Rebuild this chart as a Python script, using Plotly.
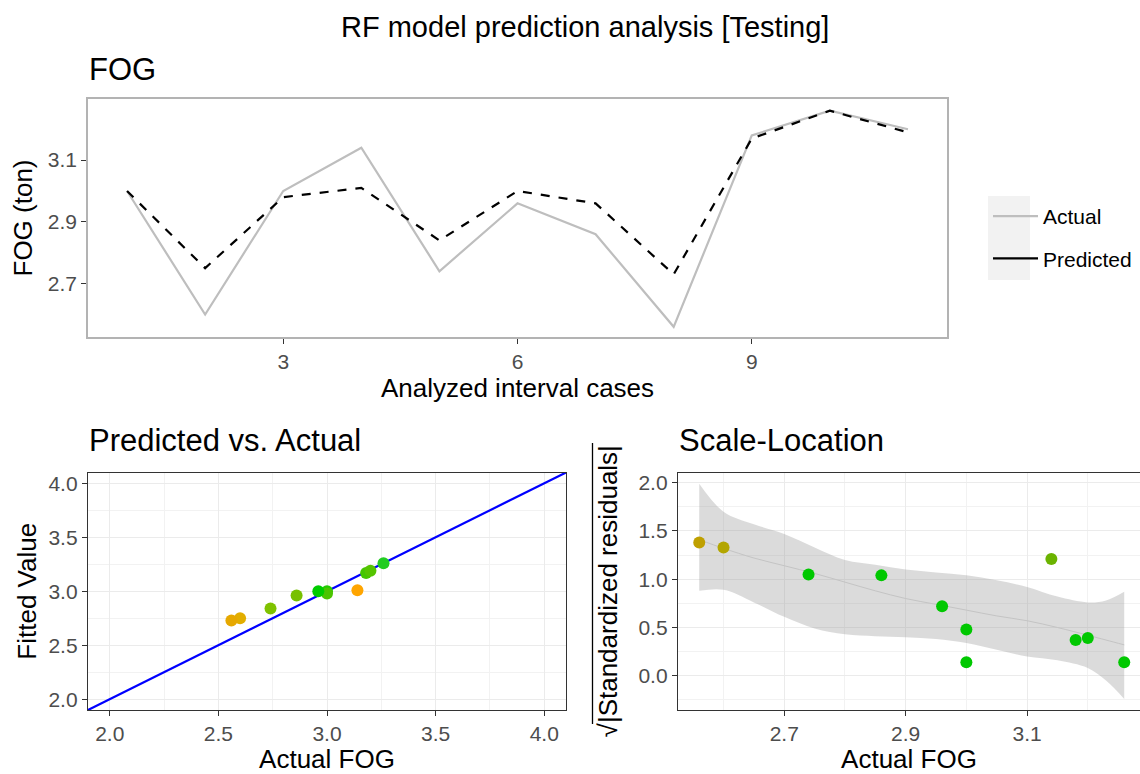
import plotly.graph_objects as go

# ---------------- data ----------------
cases = list(range(1, 12))
actual = [3.00, 2.60, 3.00, 3.14, 2.74, 2.96, 2.86, 2.56, 3.18, 3.26, 3.20]
predicted = [3.00, 2.75, 2.98, 3.01, 2.84, 3.00, 2.96, 2.73, 3.17, 3.26, 3.19]
sqrt_std_resid = [0.14, 1.33, 0.48, 1.21, 1.05, 0.72, 1.04, 1.38, 0.37, 0.14, 0.39]

# loess smooth (scale-location) with confidence band
smooth_x = [2.56, 2.60, 2.65, 2.70, 2.75, 2.80, 2.85, 2.90, 2.95, 3.00, 3.05, 3.10, 3.15, 3.20, 3.23, 3.26]
smooth_y = [1.41, 1.32, 1.22, 1.14, 1.06, 0.97, 0.88, 0.80, 0.74, 0.68, 0.62, 0.57, 0.50, 0.42, 0.37, 0.32]
smooth_upper = [1.99, 1.70, 1.57, 1.47, 1.33, 1.20, 1.15, 1.10, 1.07, 1.04, 0.99, 0.92, 0.82, 0.76, 0.78, 0.87]
smooth_lower = [0.88, 0.89, 0.76, 0.61, 0.49, 0.43, 0.41, 0.40, 0.38, 0.34, 0.27, 0.20, 0.16, 0.08, -0.05, -0.24]

abline_intercept = 0.0
abline_slope = 1.0

# per-point colours
pva_colors = ["#22CC00", "#E2AE00", "#4CC400", "#FFA500", "#7FC200", "#00CC00",
              "#77C000", "#E6A800", "#44C600", "#22CC22", "#55C400"]
sl_colors = ["#00C800", "#B3A600", "#00C800", "#6BB300", "#00C800", "#00C800",
             "#00C800", "#BFA000", "#00C800", "#00C800", "#00C800"]

W, H = 1140, 774
FONT = "Liberation Sans, Arial, sans-serif"


def px(x):
    return x / W


def py(y):
    return 1 - y / H


fig = go.Figure()

# ---- top panel ----
fig.add_trace(go.Scatter(x=cases, y=actual, mode="lines", line=dict(color="#BEBEBE", width=2.2),
                         showlegend=False, xaxis="x", yaxis="y"))
fig.add_trace(go.Scatter(x=cases, y=predicted, mode="lines",
                         line=dict(color="black", width=2.2, dash="dash"),
                         showlegend=False, xaxis="x", yaxis="y"))
# legend keys
fig.add_trace(go.Scatter(x=[None], y=[None], mode="lines", name="Actual",
                         line=dict(color="#BEBEBE", width=2.2), legendgroup="a",
                         xaxis="x", yaxis="y"))
fig.add_trace(go.Scatter(x=[None], y=[None], mode="lines", name="Predicted",
                         line=dict(color="black", width=2.2), legendgroup="b",
                         xaxis="x", yaxis="y"))

# ---- bottom left: predicted vs actual ----
xr2 = [1.9, 4.1]
fig.add_trace(go.Scatter(x=xr2, y=[abline_intercept + abline_slope * v for v in xr2], mode="lines",
                         line=dict(color="#0000FF", width=2.2), showlegend=False,
                         xaxis="x2", yaxis="y2", cliponaxis=True))
fig.add_trace(go.Scatter(x=actual, y=predicted, mode="markers",
                         marker=dict(color=pva_colors, size=12), showlegend=False,
                         xaxis="x2", yaxis="y2"))

# ---- bottom right: scale-location ----
fig.add_trace(go.Scatter(x=smooth_x, y=smooth_upper, mode="lines", line=dict(width=0, shape="spline"),
                         showlegend=False, xaxis="x3", yaxis="y3", hoverinfo="skip"))
fig.add_trace(go.Scatter(x=smooth_x, y=smooth_lower, mode="lines", line=dict(width=0, shape="spline"),
                         fill="tonexty", fillcolor="rgba(153,153,153,0.35)",
                         showlegend=False, xaxis="x3", yaxis="y3", hoverinfo="skip"))
fig.add_trace(go.Scatter(x=smooth_x, y=smooth_y, mode="lines", line=dict(color="#C4C4C4", width=1, shape="spline"),
                         showlegend=False, xaxis="x3", yaxis="y3"))
fig.add_trace(go.Scatter(x=actual, y=sqrt_std_resid, mode="markers",
                         marker=dict(color=sl_colors, size=12), showlegend=False,
                         xaxis="x3", yaxis="y3"))

tickfont = dict(family=FONT, size=21, color="#4D4D4D")
titlefont = dict(family=FONT, size=26, color="black")

common_top = dict(showgrid=False, zeroline=False, showline=True, mirror=True,
                  linecolor="#B3B3B3", linewidth=1.5, ticks="outside", ticklen=5,
                  tickcolor="#333333", tickwidth=1.3, tickfont=tickfont, automargin=False)
common_bw = dict(showgrid=True, gridcolor="#EBEBEB", gridwidth=1.2, zeroline=False, showline=True,
                 mirror=True, linecolor="#333333", linewidth=1.3, ticks="outside", ticklen=5,
                 tickcolor="#333333", tickwidth=1.3, tickfont=tickfont, automargin=False)

fig.update_layout(
    width=W, height=H,
    margin=dict(l=0, r=0, t=0, b=0),
    paper_bgcolor="white", plot_bgcolor="white",
    font=dict(family=FONT, color="black"),
    xaxis=dict(domain=[px(88), px(947)], range=[0.5, 11.5], tickvals=[3, 6, 9],
               title=dict(text="Analyzed interval cases", font=titlefont, standoff=6),
               anchor="y", **common_top),
    yaxis=dict(domain=[py(337), py(99)], range=[2.527, 3.298], tickvals=[2.7, 2.9, 3.1],
               title=dict(text="FOG (ton)", font=titlefont, standoff=8),
               anchor="x", **common_top),
    xaxis2=dict(domain=[px(88), px(566)], range=[1.9, 4.1], tickvals=[2.0, 2.5, 3.0, 3.5, 4.0],
                tickformat=".1f",
                minor=dict(tickvals=[2.25, 2.75, 3.25, 3.75], showgrid=True, gridcolor="#F2F2F2", gridwidth=0.8),
                title=dict(text="Actual FOG", font=titlefont, standoff=4),
                anchor="y2", **common_bw),
    yaxis2=dict(domain=[py(710), py(472.5)], range=[1.9, 4.1], tickvals=[2.0, 2.5, 3.0, 3.5, 4.0],
                tickformat=".1f",
                minor=dict(tickvals=[2.25, 2.75, 3.25, 3.75], showgrid=True, gridcolor="#F2F2F2", gridwidth=0.8),
                title=dict(text="Fitted Value", font=titlefont, standoff=4),
                anchor="x2", **common_bw),
    xaxis3=dict(domain=[px(678), 1.0], range=[2.525, 3.286], tickvals=[2.7, 2.9, 3.1],
                tickformat=".1f",
                minor=dict(tickvals=[2.6, 2.8, 3.0, 3.2], showgrid=True, gridcolor="#F2F2F2", gridwidth=0.8),
                title=dict(text="Actual FOG", font=titlefont, standoff=4),
                anchor="y3", **common_bw),
    yaxis3=dict(domain=[py(710), py(472.5)], range=[-0.355, 2.106], tickvals=[0.0, 0.5, 1.0, 1.5, 2.0],
                tickformat=".1f",
                minor=dict(tickvals=[-0.25, 0.25, 0.75, 1.25, 1.75], showgrid=True, gridcolor="#F2F2F2", gridwidth=0.8),
                title=dict(text="√|Standardized residuals|", font=titlefont, standoff=13),
                anchor="x3", **common_bw),
    legend=dict(x=px(988), y=py(196), xanchor="left", yanchor="top",
                font=dict(family=FONT, size=21, color="black"),
                bgcolor="rgba(0,0,0,0)", tracegroupgap=12, itemwidth=45),
    shapes=[
        dict(type="rect", xref="paper", yref="paper", x0=px(988), x1=px(1030), y0=py(280), y1=py(196),
             fillcolor="#F2F2F2", line=dict(width=0), layer="below"),
        dict(type="line", xref="paper", yref="paper", x0=px(592.5), x1=px(592.5), y0=py(724), y1=py(443),
             line=dict(color="black", width=1.3)),
    ],
    annotations=[
        dict(text="RF model prediction analysis [Testing]", x=px(584.5), y=py(27), xref="paper", yref="paper",
             xanchor="center", yanchor="middle", showarrow=False, font=dict(family=FONT, size=29, color="black")),
        dict(text="FOG", x=px(87), y=py(70), xref="paper", yref="paper", xanchor="left", yanchor="middle",
             showarrow=False, font=dict(family=FONT, size=31, color="black")),
        dict(text="Predicted vs. Actual", x=px(87), y=py(440), xref="paper", yref="paper", xanchor="left",
             yanchor="middle", showarrow=False, font=dict(family=FONT, size=31, color="black")),
        dict(text="Scale-Location", x=px(677), y=py(440), xref="paper", yref="paper", xanchor="left",
             yanchor="middle", showarrow=False, font=dict(family=FONT, size=31, color="black")),
    ],
)

fig.write_html("out.html")
